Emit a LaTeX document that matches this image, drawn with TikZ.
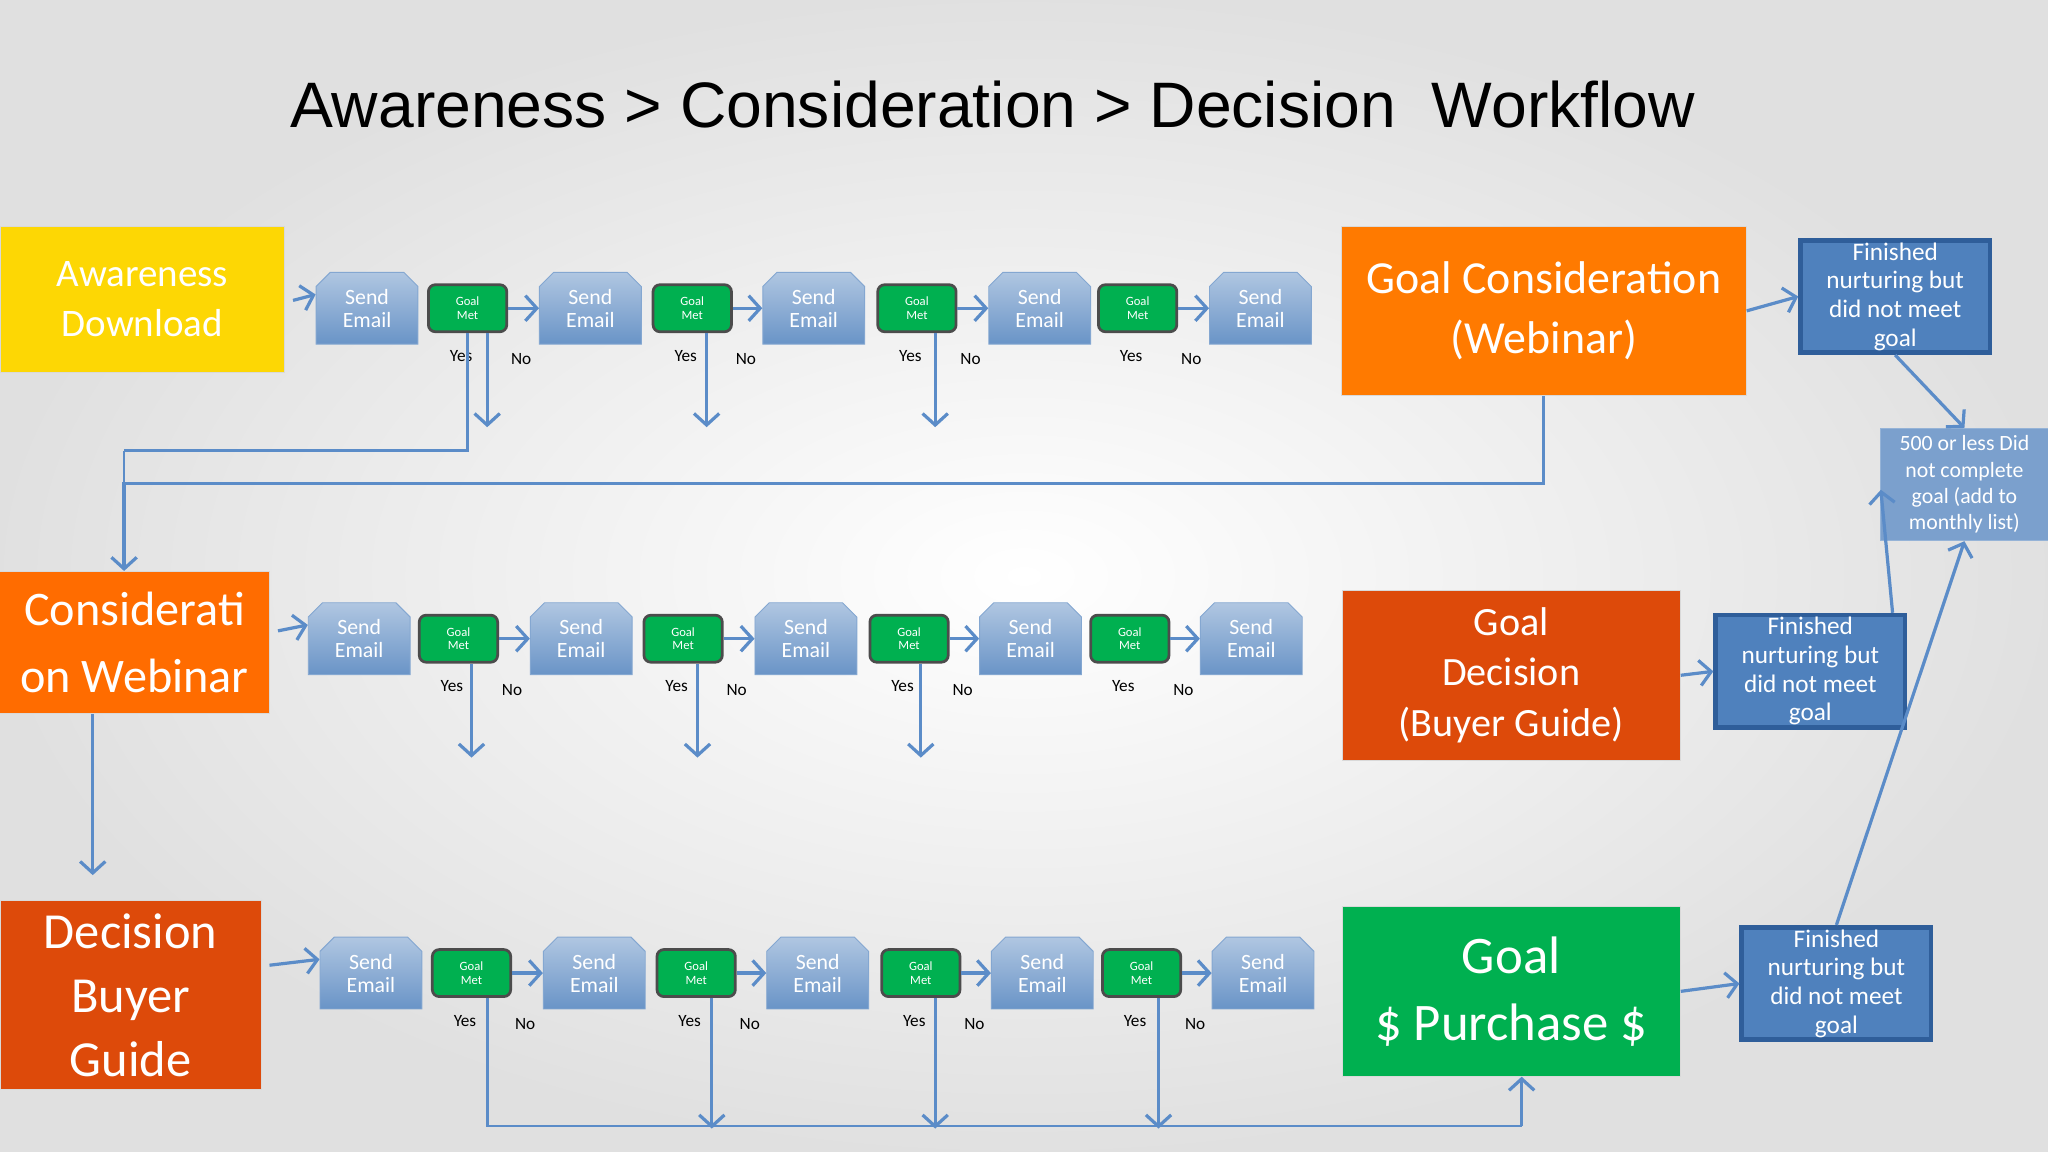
\documentclass[tikz,border=0pt]{standalone}
\usepackage{fontspec}
\setmainfont{Carlito}
\newfontfamily\titlefont{Liberation Sans}
\usetikzlibrary{arrows.meta,shapes.misc}
\definecolor{ln}{HTML}{5B8CC8}
\definecolor{bx}{HTML}{4F81BD}
\definecolor{bxd}{HTML}{2F5E9A}
\definecolor{gm}{HTML}{00B050}
\definecolor{dred}{HTML}{DD4A0A}
\definecolor{oran}{HTML}{FF7A00}
\begin{document}
\begin{tikzpicture}[x=0.02cm,y=-0.02cm,
 ar/.style={draw=ln,line width=1.4pt,-{Straight Barb[length=5pt,width=11pt]}},
 pl/.style={draw=ln,line width=1.2pt},
 send/.style={chamfered rectangle,chamfered rectangle corners={north west,north east},chamfered rectangle xsep=3pt,
   minimum width=1.56cm,minimum height=1.1cm,inner sep=0pt,top color=bx!45!white,bottom color=bx!85!white,draw=bx!70!white,text=white,font=\fontsize{9.5}{10}\selectfont,align=center},
 goal/.style={rounded corners=3pt,minimum width=1.2cm,minimum height=0.72cm,inner sep=0pt,fill=gm,draw=black!70,line width=1.2pt,text=white,font=\fontsize{5.5}{6}\selectfont,align=center},
 big/.style={minimum width=#1,inner sep=2pt,text=white,align=center,draw=black!15},
 fin/.style={fill=bx,draw=bxd,line width=2pt,text=white,align=center,font=\fontsize{11}{12.5}\selectfont,inner sep=1pt},
 lbl/.style={font=\fontsize{7.5}{8}\selectfont,text=black}]
\shade[inner color=white,outer color=black!12] (0,0) rectangle (1568,882);
\useasboundingbox (0,0) rectangle (1568,882);
\node[font=\titlefont\fontsize{28}{32}\selectfont] (title) at (760,80) {Awareness > Consideration > Decision\ \ Workflow};
% big boxes
\node[big=4.36cm,fill=yellow!75!orange,minimum height=2.24cm,font=\fontsize{17}{22}\selectfont] (aw) at (109,229) {Awareness\\Download};
\node[big=4.14cm,fill=orange!85!red,minimum height=2.18cm,font=\fontsize{21}{29}\selectfont] (cw) at (103,492) {Considerati\\on Webinar};
\node[big=4.0cm,fill=dred,minimum height=2.9cm,font=\fontsize{22}{28}\selectfont] (db) at (100,762) {Decision\\Buyer\\Guide};
\node[big=6.2cm,fill=oran,minimum height=2.6cm,font=\fontsize{20}{26}\selectfont] (gc) at (1182,238) {Goal Consideration\\(Webinar)};
\node[big=5.18cm,fill=dred,minimum height=2.6cm,font=\fontsize{17.5}{22}\selectfont] (gd) at (1157,517) {Goal\\Decision\\(Buyer Guide)};
\node[big=5.18cm,fill=gm,minimum height=2.6cm,font=\fontsize{23}{29}\selectfont] (gp) at (1157,759) {Goal\\\$ Purchase \$};
\node[fin,minimum width=2.9cm,minimum height=1.64cm] (f1) at (1451,227) {Finished\\nurturing but\\did not meet\\goal};
\node[fin,minimum width=2.9cm,minimum height=1.64cm] (f2) at (1386,514) {Finished\\nurturing but\\did not meet\\goal};
\node[fin,minimum width=2.9cm,minimum height=1.64cm] (f3) at (1406,753) {Finished\\nurturing but\\did not meet\\goal};
\node[fill=bx!75!white,draw=bx!60!white,text=white,align=center,minimum width=2.56cm,minimum height=1.72cm,inner sep=1pt,font=\fontsize{9.5}{11.5}\selectfont] (p5) at (1504,371) {500 or less Did\\not complete\\goal (add to\\monthly list)};
% rows
\foreach \r/\y/\sx/\gx/\src in {1/236/{281,452,623,796,965}/{358,530,702,871}/aw,2/489/{275,445,617,789,958}/{351,523,696,865}/cw,3/745/{284,455,626,798,967}/{361,533,705,874}/db}{
 \foreach \x [count=\i] in \sx {\node[send] (s\r-\i) at (\x,\y) {Send\\Email};}
 \foreach \x [count=\i] in \gx {\node[goal] (g\r-\i) at (\x,\y) {Goal\\Met};
   \pgfmathtruncatemacro\n{\i+1}
   \draw[ar] (g\r-\i.east) -- (s\r-\n.west);
   \node[lbl] (no\r-\i) at ([xshift=0.2cm,yshift=-0.4cm]g\r-\i.south east) {No};
   \node[lbl] (ye\r-\i) at ([xshift=-0.1cm,yshift=-0.35cm]g\r-\i.south) {Yes};}
 \draw[ar] (s\r-1.west -| \src.east) ++(6,-6) -- ([yshift=6]s\r-1.west);
}
% yes arrows
\draw[ar] ([xshift=0.3cm]g1-1.south) -- ++(0,72) coordinate (e11);
\draw[ar] ([xshift=0.22cm]g1-2.south) -- ++(0,72) coordinate (e12);
\draw[ar] ([xshift=0.28cm]g1-3.south) -- ++(0,72) coordinate (e13);
\draw[ar] ([xshift=0.2cm]g2-1.south) -- ++(0,72) coordinate (e21);
\draw[ar] ([xshift=0.22cm]g2-2.south) -- ++(0,72) coordinate (e22);
\draw[ar] ([xshift=0.18cm]g2-3.south) -- ++(0,72) coordinate (e23);
% loops to consideration
\draw[pl] (g1-1.south) -- (358,345) -- (95,345);
\draw[ar] (gc.south) -- (1182,370) -- (95,370) -- (cw.north -| 95,0);
\draw[pl] (95,345) -- (95,370);
\draw[ar] (cw.south -| 71,0) -- (71,670) coordinate (e3);
% row3 to purchase
\draw[pl] ([xshift=0.24cm]g3-1.south) -- ++(0,0) |- (1165,862);
\draw[ar] (1165,862) -- (gp.south -| 1165,0);
\draw[ar] ([xshift=0.24cm]g3-2.south) -- ++(0,100);
\draw[ar] ([xshift=0.22cm]g3-3.south) -- ++(0,100);
\draw[ar] ([xshift=0.26cm]g3-4.south) -- ++(0,100);
% finished
\draw[ar] (gc.east) -- (f1.west);
\draw[ar] (gd.east) -- (f2.west);
\draw[ar] (gp.east) -- (f3.west);
\draw[ar] (f1.south) -- (p5.north);
\draw[ar] (f2.north -| 1449,0) -- (1440,375);
\draw[ar] (f3.north) -- (p5.south);
\end{tikzpicture}
\end{document}
